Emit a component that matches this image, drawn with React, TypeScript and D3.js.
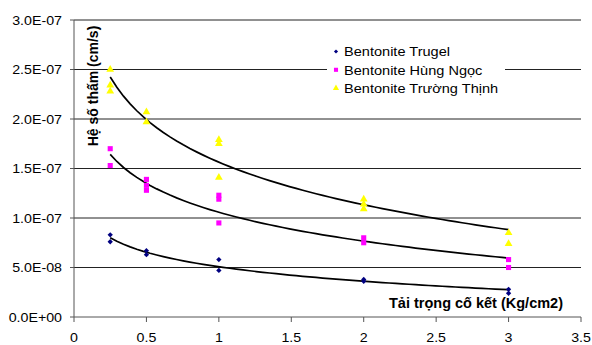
import * as d3 from "d3";
import { useEffect, useRef } from "react";

const WIDTH = 592;
const HEIGHT = 345;
const MARGIN = { top: 20, right: 11, bottom: 28, left: 74 };

// Loads (Kg/cm2) and permeability (cm/s) per sample.
const trugelX = [0.25, 0.25, 0.5, 0.5, 1, 1, 2, 2, 3, 3];
const trugelY = [8.3e-8, 7.6e-8, 6.7e-8, 6.3e-8, 5.8e-8, 4.7e-8, 3.8e-8, 3.6e-8, 2.8e-8, 2.4e-8];

const hungNgocX = [0.25, 0.25, 0.5, 0.5, 0.5, 1, 1, 1, 2, 2, 3, 3];
const hungNgocY = [
  1.7e-7, 1.53e-7, 1.39e-7, 1.33e-7, 1.28e-7, 1.23e-7, 1.19e-7, 9.5e-8, 8.0e-8, 7.5e-8, 5.8e-8,
  5.0e-8,
];

const truongThinhX = [0.25, 0.25, 0.25, 0.5, 0.5, 1, 1, 1, 2, 2, 2, 3, 3];
const truongThinhY = [
  2.5e-7, 2.34e-7, 2.28e-7, 2.07e-7, 1.97e-7, 1.79e-7, 1.75e-7, 1.41e-7, 1.19e-7, 1.14e-7,
  1.09e-7, 8.5e-8, 7.4e-8,
];

const X_TICKS = [0, 0.5, 1, 1.5, 2, 2.5, 3, 3.5];
const Y_TICKS = [0, 5e-8, 1e-7, 1.5e-7, 2e-7, 2.5e-7, 3e-7];

type Marker = "diamond" | "square" | "triangle";
const SERIES: { name: string; xs: number[]; ys: number[]; color: string; marker: Marker }[] = [
  { name: "Bentonite Trugel", xs: trugelX, ys: trugelY, color: "#000080", marker: "diamond" },
  { name: "Bentonite Hùng Ngọc", xs: hungNgocX, ys: hungNgocY, color: "#ff00ff", marker: "square" },
  {
    name: "Bentonite Trường Thịnh",
    xs: truongThinhX,
    ys: truongThinhY,
    color: "#ffff00",
    marker: "triangle",
  },
];

const FONT = "'Liberation Sans', Arial, sans-serif";
const STRETCH = 1.12;

// Excel-style logarithmic trendline: y = a + b ln x, least squares.
function logFit(xs: number[], ys: number[]) {
  const lx = xs.map(Math.log);
  const mx = d3.mean(lx) as number;
  const my = d3.mean(ys) as number;
  let sxy = 0;
  let sxx = 0;
  lx.forEach((v, i) => {
    sxy += (v - mx) * (ys[i] - my);
    sxx += (v - mx) * (v - mx);
  });
  const b = sxy / sxx;
  const a = my - b * mx;
  return (x: number) => a + b * Math.log(x);
}

function markerPath(m: Marker) {
  if (m === "diamond") return d3.symbol(d3.symbolSquare, 14)();
  if (m === "square") return d3.symbol(d3.symbolSquare, 26)();
  return d3.symbol(d3.symbolTriangle, 26)();
}

// diamonds are squares turned by 45°
const markerRotate = (m: Marker) => (m === "diamond" ? " rotate(45)" : "");

function Chart() {
  const ref = useRef<SVGSVGElement>(null);

  useEffect(() => {
    const svg = d3.select(ref.current);
    svg.selectAll("*").remove();
    const innerW = WIDTH - MARGIN.left - MARGIN.right;
    const innerH = HEIGHT - MARGIN.top - MARGIN.bottom;
    const g = svg.append("g").attr("transform", `translate(${MARGIN.left},${MARGIN.top})`);

    const x = d3.scaleLinear().domain([0, 3.5]).range([0, innerW]);
    const y = d3.scaleLinear().domain([0, 3e-7]).range([innerH, 0]);

    // stretched text, like the scaled Excel chart
    const label = (
      parent: d3.Selection<SVGGElement, unknown, null, undefined>,
      tx: number,
      ty: number,
      text: string,
      size: number,
      anchor: string,
    ) =>
      parent
        .append("text")
        .attr("transform", `translate(${tx},${ty}) scale(${STRETCH},1)`)
        .attr("font-family", FONT)
        .attr("font-size", size)
        .attr("text-anchor", anchor)
        .attr("fill", "#000")
        .text(text);

    g.append("g")
      .selectAll("line")
      .data(Y_TICKS.filter((d) => d > 0))
      .join("line")
      .attr("x1", 0)
      .attr("x2", innerW)
      .attr("y1", (d) => y(d))
      .attr("y2", (d) => y(d))
      .attr("stroke", "#222")
      .attr("stroke-width", 1);

    // axes
    g.append("line")
      .attr("x1", 0)
      .attr("x2", 0)
      .attr("y1", 0)
      .attr("y2", innerH)
      .attr("stroke", "#555");
    g.append("line")
      .attr("x1", 0)
      .attr("x2", innerW)
      .attr("y1", innerH)
      .attr("y2", innerH)
      .attr("stroke", "#555");
    const yt = g.append("g");
    for (const t of Y_TICKS) {
      yt.append("line")
        .attr("x1", -4)
        .attr("x2", 0)
        .attr("y1", y(t))
        .attr("y2", y(t))
        .attr("stroke", "#555");
      label(yt, -12, y(t) + 4.5, d3.format(".1e")(t).replace("e", "E").replace(/E([+-])(\d)$/, "E$10$2"), 12.7, "end");
    }
    const xt = g.append("g");
    for (const t of X_TICKS) {
      xt.append("line")
        .attr("x1", x(t))
        .attr("x2", x(t))
        .attr("y1", innerH)
        .attr("y2", innerH + 5)
        .attr("stroke", "#555");
      label(xt, x(t), innerH + 25, String(t), 12.7, "middle");
    }

    // trendlines
    for (const s of SERIES) {
      const f = logFit(s.xs, s.ys);
      const [lo, hi] = d3.extent(s.xs) as [number, number];
      const samples = d3.range(0, 61).map((i) => lo + ((hi - lo) * i) / 60);
      g.append("path")
        .attr("fill", "none")
        .attr("stroke", "#000")
        .attr("stroke-width", 1.7)
        .attr(
          "d",
          d3
            .line<number>()
            .x((d) => x(d))
            .y((d) => y(f(d)))(samples) ?? "",
        );
    }

    // points
    for (const s of SERIES) {
      g.append("g")
        .selectAll("path")
        .data(s.ys)
        .join("path")
        .attr("d", markerPath(s.marker))
        .attr("transform", (d, i) => `translate(${x(s.xs[i])},${y(d)})${markerRotate(s.marker)}`)
        .attr("fill", s.color);
    }

    // axis titles
    g.append("text")
      .attr("transform", `translate(${98 - MARGIN.left},${86 - MARGIN.top}) rotate(-90)`)
      .attr("font-family", FONT)
      .attr("font-size", 14)
      .attr("font-weight", "bold")
      .attr("text-anchor", "middle")
      .text("Hệ số thấm (cm/s)");
    g.append("text")
      .attr("x", 563 - MARGIN.left)
      .attr("y", 308 - MARGIN.top)
      .attr("font-family", FONT)
      .attr("font-size", 14.5)
      .attr("font-weight", "bold")
      .attr("text-anchor", "end")
      .text("Tải trọng cố kết (Kg/cm2)");

    // legend
    const lg = svg.append("g").attr("transform", "translate(327,40)");
    lg.append("rect").attr("width", 178).attr("height", 62).attr("fill", "#fff");
    SERIES.forEach((s, i) => {
      const cy = 11.5 + i * 18.3;
      lg.append("path")
        .attr("d", markerPath(s.marker))
        .attr("transform", `translate(9,${cy}) scale(0.8)${markerRotate(s.marker)}`)
        .attr("fill", s.color);
      label(lg, 17, cy + 4.7, s.name, 13, "start");
    });
  }, []);

  return (
    <svg
      ref={ref}
      width={WIDTH}
      height={HEIGHT}
      viewBox={`0 0 ${WIDTH} ${HEIGHT}`}
      style={{ position: "absolute", left: 0, top: 0, background: "#fff" }}
    />
  );
}

export default function App() {
  return <Chart />;
}
